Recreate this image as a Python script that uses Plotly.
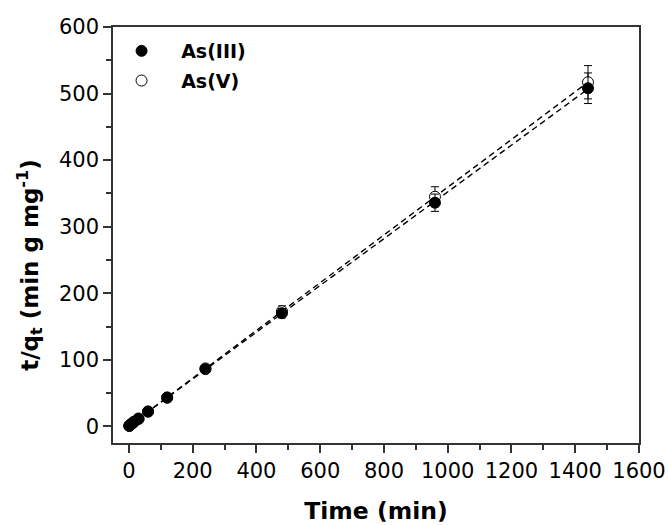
import numpy as np
import plotly.graph_objects as go

time_min = [1, 5, 10, 15, 30, 60, 120, 240, 480, 960, 1440]
as3_tq = [0.6, 2.3, 4.2, 6.2, 11.8, 22.5, 43.5, 86, 170, 336, 508]
as3_err = [0.3, 0.3, 0.4, 0.5, 1.0, 2.0, 3.0, 4.0, 7.0, 13, 23]
as5_tq = [0.7, 2.6, 4.8, 6.8, 11.0, 22.0, 43.0, 87, 173, 345, 517]
as5_err = [0.3, 0.3, 0.5, 0.6, 1.2, 2.2, 3.5, 5.0, 8.0, 15, 25]

font_fam = "DejaVu Sans, Liberation Sans, Arial, sans-serif"
pad = "\u00a0\u00a0"

t = np.array(time_min, dtype=float)
p3 = np.polyfit(t, as3_tq, 1)
p5 = np.polyfit(t, as5_tq, 1)
tfit = np.array([0.0, 1440.0])

fig = go.Figure()
fig.add_trace(go.Scatter(x=tfit, y=np.polyval(p3, tfit), mode="lines",
                         line=dict(color="black", width=1.4, dash="6px,4px"),
                         showlegend=False, hoverinfo="skip"))
fig.add_trace(go.Scatter(x=tfit, y=np.polyval(p5, tfit), mode="lines",
                         line=dict(color="black", width=1.4, dash="6px,4px"),
                         showlegend=False, hoverinfo="skip"))
fig.add_trace(go.Scatter(x=time_min, y=as5_tq, mode="markers", name=pad + "<b>As(V)</b>",
                         legendrank=2, legendgroup="b",
                         marker=dict(symbol="circle", size=11, color="white",
                                     line=dict(color="black", width=1)),
                         error_y=dict(type="data", array=as5_err, color="black",
                                      thickness=1, width=4)))
fig.add_trace(go.Scatter(x=time_min, y=as3_tq, mode="markers", name=pad + "<b>As(III)</b>",
                         legendrank=1, legendgroup="a",
                         marker=dict(symbol="circle", size=11, color="black",
                                     line=dict(color="black", width=1)),
                         error_y=dict(type="data", array=as3_err, color="black",
                                      thickness=1, width=4)))

axis_common = dict(showline=True, linecolor="#333", linewidth=1.5, mirror=True,
                   ticks="outside", ticklen=8, tickwidth=1.5, tickcolor="#333",
                   showgrid=False, zeroline=False, automargin=False,
                   tickfont=dict(family=font_fam, size=21, color="black"))

fig.update_layout(
    width=668, height=525,
    margin=dict(l=113, r=29, t=27, b=82),
    paper_bgcolor="white", plot_bgcolor="white",
    font=dict(family=font_fam, color="black"),
    xaxis=dict(range=[-50, 1600], tick0=0, dtick=200,
               minor=dict(ticks="outside", ticklen=5, tickwidth=1.5, tickcolor="#333", dtick=100),
               title=dict(text="<b>Time (min)</b>", font=dict(size=23.5), standoff=23),
               **axis_common),
    yaxis=dict(range=[-25, 600], tick0=0, dtick=100,
               minor=dict(ticks="outside", ticklen=5, tickwidth=1.5, tickcolor="#333", dtick=50),
               **axis_common),
    legend=dict(x=0.002, y=0.988, xanchor="left", yanchor="top",
                bgcolor="rgba(0,0,0,0)", font=dict(size=19, family=font_fam),
                itemwidth=45, traceorder="grouped", tracegroupgap=2),
    annotations=[dict(text="<b>t/q<sub>t</sub> (min g mg<sup>-1</sup>)</b>",
                      xref="paper", yref="paper", x=-0.158, y=0.428,
                      xanchor="center", yanchor="middle", textangle=-90,
                      showarrow=False, font=dict(size=23, family=font_fam, color="black"))],
)

fig.write_html("out.html", config={"displayModeBar": False},
               post_script="document.body.style.margin='0';document.body.style.overflow='hidden';")
